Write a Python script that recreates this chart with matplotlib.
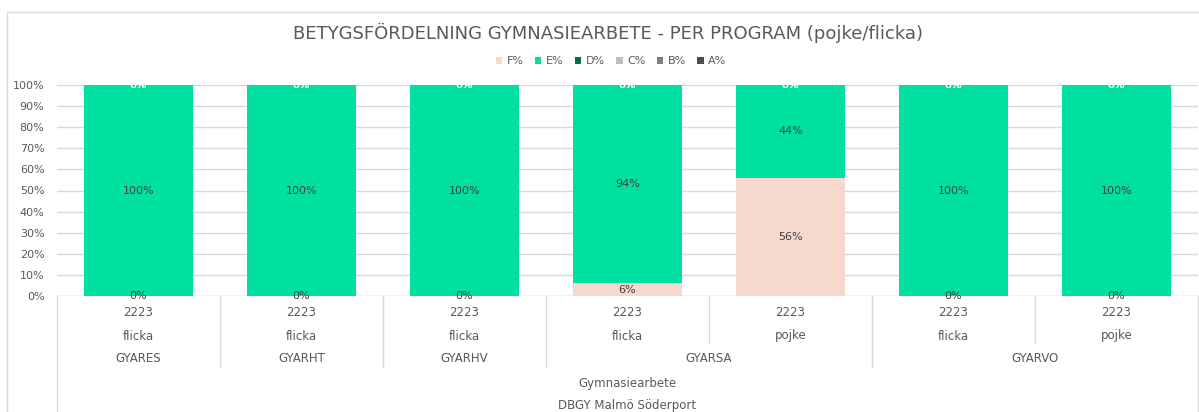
import matplotlib
matplotlib.use("Agg")
import matplotlib.pyplot as plt
from matplotlib.patches import Rectangle
from matplotlib.lines import Line2D
import numpy as np

# ---- data ----
years = ["2223", "2223", "2223", "2223", "2223", "2223", "2223"]
genders = ["flicka", "flicka", "flicka", "flicka", "pojke", "flicka", "pojke"]
programs = ["GYARES", "GYARHT", "GYARHV", "GYARSA", "GYARVO"]
program_spans = [1, 1, 1, 2, 2]
course = "Gymnasiearbete"
school = "DBGY Malmö Söderport"
series_names = ["F%", "E%", "D%", "C%", "B%", "A%"]
F = [0, 0, 0, 6, 56, 0, 0]
E = [100, 100, 100, 94, 44, 100, 100]
D = [0, 0, 0, 0, 0, 0, 0]
C = [0, 0, 0, 0, 0, 0, 0]
B = [0, 0, 0, 0, 0, 0, 0]
A = [0, 0, 0, 0, 0, 0, 0]
series_vals = [F, E, D, C, B, A]
colors = ["#F6D8CF", "#00E0A0", "#006F49", "#BFBFBF", "#808080", "#4D4D4D"]
label_colors = ["#404040", "#404040", "white", "white", "white", "white"]

TXT = "#595959"
GRID = "#D9D9D9"
plt.rcParams['font.family'] = ['DejaVu Sans']

W, H = 1199, 412
fig = plt.figure(figsize=(W / 100, H / 100), dpi=100)
px_l, px_r, px_t, px_b = 57, 1198, 85, 296
ax = fig.add_axes([px_l / W, 1 - px_b / H, (px_r - px_l) / W, (px_b - px_t) / H])

n = len(E)
x = np.arange(n)
bottom = np.zeros(n)
for name, vals, col, lc in zip(series_names, series_vals, colors, label_colors):
    bars = ax.bar(x, vals, 0.67, bottom=bottom, color=col, label=name, zorder=3)
    ax.bar_label(bars, labels=[f"{v}%" for v in vals], label_type='center',
                 color=lc, fontsize=8, zorder=4)
    bottom += np.array(vals)

ax.set_xlim(-0.5, n - 0.5)
ax.set_ylim(0, 100)
ax.set_yticks(np.arange(0, 101, 10))
ax.set_yticklabels([f"{v}%" for v in range(0, 101, 10)])
ax.tick_params(axis='y', length=0, labelsize=8, labelcolor=TXT, pad=9)
ax.tick_params(axis='x', length=0, labelbottom=False)
ax.grid(axis='y', color=GRID, linewidth=1, zorder=0)
for s in ax.spines.values():
    s.set_visible(False)
ax.axhline(0, color=GRID, linewidth=1, zorder=2)

# ---- multi-level category axis ----
def ay(py):
    return (px_b - py) / (px_b - px_t)

trans = ax.get_xaxis_transform()
def vline(xv, py_end):
    ax.add_line(Line2D([xv, xv], [0, ay(py_end)], transform=trans,
                       color=GRID, linewidth=1, clip_on=False))

for i in range(n):
    ax.text(x[i], ay(313), years[i], transform=trans, ha='center', va='center',
            fontsize=8.5, color=TXT)
    ax.text(x[i], ay(336), genders[i], transform=trans, ha='center', va='center',
            fontsize=8.5, color=TXT)

start = 0
for p, span in zip(programs, program_spans):
    ax.text(start + (span - 1) / 2, ay(359), p, transform=trans, ha='center',
            va='center', fontsize=8.5, color=TXT)
    for k in range(1, span):
        vline(start + k - 0.5, 343)
    if start > 0:
        vline(start - 0.5, 367)
    start += span
vline(n - 0.5, 420)
vline(-0.5, 420)

ax.text((n - 1) / 2, ay(383), course, transform=trans, ha='center', va='center',
        fontsize=8.5, color=TXT)
ax.text((n - 1) / 2, ay(406), school, transform=trans, ha='center', va='center',
        fontsize=8.5, color=TXT)

# ---- title & legend ----
fig.text(608 / W, 1 - 33 / H, "BETYGSFÖRDELNING GYMNASIEARBETE - PER PROGRAM (pojke/flicka)",
         ha='center', va='center', fontsize=13, color=TXT)
handles, labels = ax.get_legend_handles_labels()
fig.legend(handles, labels, loc='center', bbox_to_anchor=(611 / W, 1 - 61 / H), ncol=6,
           frameon=False, fontsize=8, labelcolor=TXT, handlelength=0.6, handleheight=0.6,
           handletextpad=0.4, columnspacing=1.0)

# outer chart border
fig.patches.append(Rectangle((7 / W, -0.1), 1.1, 1 - 12 / H + 0.1, transform=fig.transFigure,
                             fill=False, edgecolor=GRID, linewidth=1))

fig.savefig("out.png", dpi=100)
